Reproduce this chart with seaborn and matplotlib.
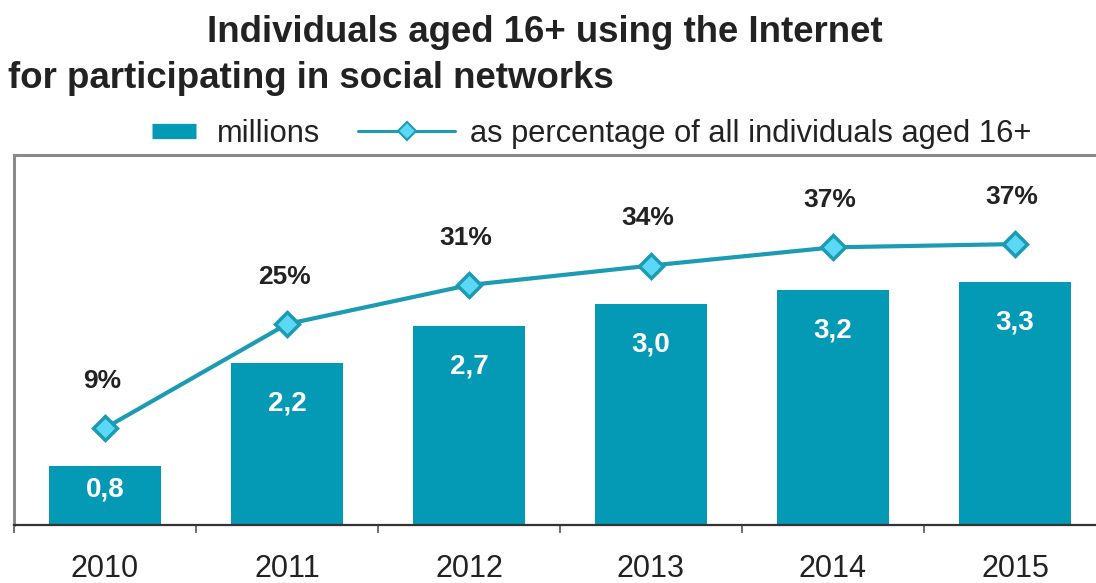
import matplotlib
matplotlib.use("Agg")
import matplotlib.pyplot as plt
import seaborn as sns
import pandas as pd
from matplotlib.lines import Line2D
from matplotlib.ticker import FixedLocator

years = ["2010", "2011", "2012", "2013", "2014", "2015"]
millions = [0.8, 2.2, 2.7, 3.0, 3.2, 3.3]
percent = [9, 25, 31, 34, 36.8, 37.3]
millions_labels = ["0,8", "2,2", "2,7", "3,0", "3,2", "3,3"]
percent_labels = ["9%", "25%", "31%", "34%", "37%", "37%"]

title1 = "Individuals aged 16+ using the Internet"
title2 = "for participating in social networks"
legend_bar = "millions"
legend_line = "as percentage of all individuals aged 16+"

BAR = "#0499B4"
LINE = "#1C9BB3"
FACE = "#5AD8F5"
TEXT = "#222222"

sns.set_theme(style="white")
plt.rcParams['font.family'] = ['Liberation Sans', 'DejaVu Sans']

df = pd.DataFrame({"year": years, "millions": millions, "percent": percent})

fig = plt.figure(figsize=(10.96, 5.83), dpi=100)
ax = fig.add_axes([14/1096, 1-525/583, 1092/1096, 370/583])

sns.barplot(data=df, x="year", y="millions", ax=ax, color=BAR, width=0.62,
            saturation=1, edgecolor="none")
ax.set_xlim(-0.5, 5.5)
ax.set_ylim(0, 5.03)
ax.set_xlabel("")
ax.set_ylabel("")
ax.set_yticks([])

for i, (v, lab) in enumerate(zip(millions, millions_labels)):
    ax.text(i, v - min(0.55, 0.4 * v), lab, ha="center", va="center",
            color="white", fontsize=20, fontweight="bold")

ax2 = ax.twinx()
sns.lineplot(data=df, x="year", y="percent", ax=ax2, color=LINE, linewidth=3,
             marker="D", markersize=12, markerfacecolor=FACE,
             markeredgecolor=LINE, markeredgewidth=2.5, sort=False)
ax2.set_ylim(-5.9, 51)
ax2.set_yticks([])
ax2.set_ylabel("")
ax2.set_xlim(-0.5, 5.5)
for i, (p, lab) in enumerate(zip(percent, percent_labels)):
    ax2.annotate(lab, (i, p), xytext=(-2, 34), textcoords="offset points",
                 ha="center", va="center", fontsize=19, fontweight="bold",
                 color=TEXT)

for a in (ax, ax2):
    for s in a.spines.values():
        s.set_visible(False)
ax.spines["left"].set_visible(True)
ax.spines["top"].set_visible(True)
ax.spines["bottom"].set_visible(True)
ax.spines["left"].set_color("#8a8a8a")
ax.spines["left"].set_linewidth(2.2)
ax.spines["top"].set_color("#8a8a8a")
ax.spines["top"].set_linewidth(2.2)
ax.spines["bottom"].set_color("#333333")
ax.spines["bottom"].set_linewidth(1.6)

ax.tick_params(axis="x", which="major", length=0, pad=21, labelsize=22,
               labelcolor=TEXT)
ax.xaxis.set_minor_locator(FixedLocator([-0.5, 0.5, 1.5, 2.5, 3.5, 4.5]))
ax.tick_params(axis="x", which="minor", bottom=True, length=6, width=1.2,
               color="#555555", direction="out")

fig.text(545/1096, 1-32/583, title1, ha="center", va="center", fontsize=26.4,
         fontweight="bold", color=TEXT)
fig.text(8/1096, 1-78/583, title2, ha="left", va="center", fontsize=26.4,
         fontweight="bold", color=TEXT)

h1 = Line2D([0], [0], color=BAR, linewidth=11, solid_capstyle="butt")
h2 = Line2D([0], [0], color=LINE, linewidth=2.2, marker="D", markersize=9,
            markerfacecolor=FACE, markeredgecolor=LINE, markeredgewidth=1.5)
fs_leg = 22.2
px = fs_leg * 100 / 72
leg1 = fig.legend([h1], [legend_bar], loc="center left",
                  bbox_to_anchor=(152/1096, 1-134/583), frameon=False,
                  fontsize=fs_leg, handlelength=44/px, handletextpad=21/px,
                  borderpad=0, borderaxespad=0, labelcolor=TEXT)
leg2 = fig.legend([h2], [legend_line], loc="center left",
                  bbox_to_anchor=(358/1096, 1-134/583), frameon=False,
                  fontsize=fs_leg, handlelength=97/px, handletextpad=15/px,
                  borderpad=0, borderaxespad=0, labelcolor=TEXT, numpoints=1)

fig.savefig("out.png", dpi=100)
